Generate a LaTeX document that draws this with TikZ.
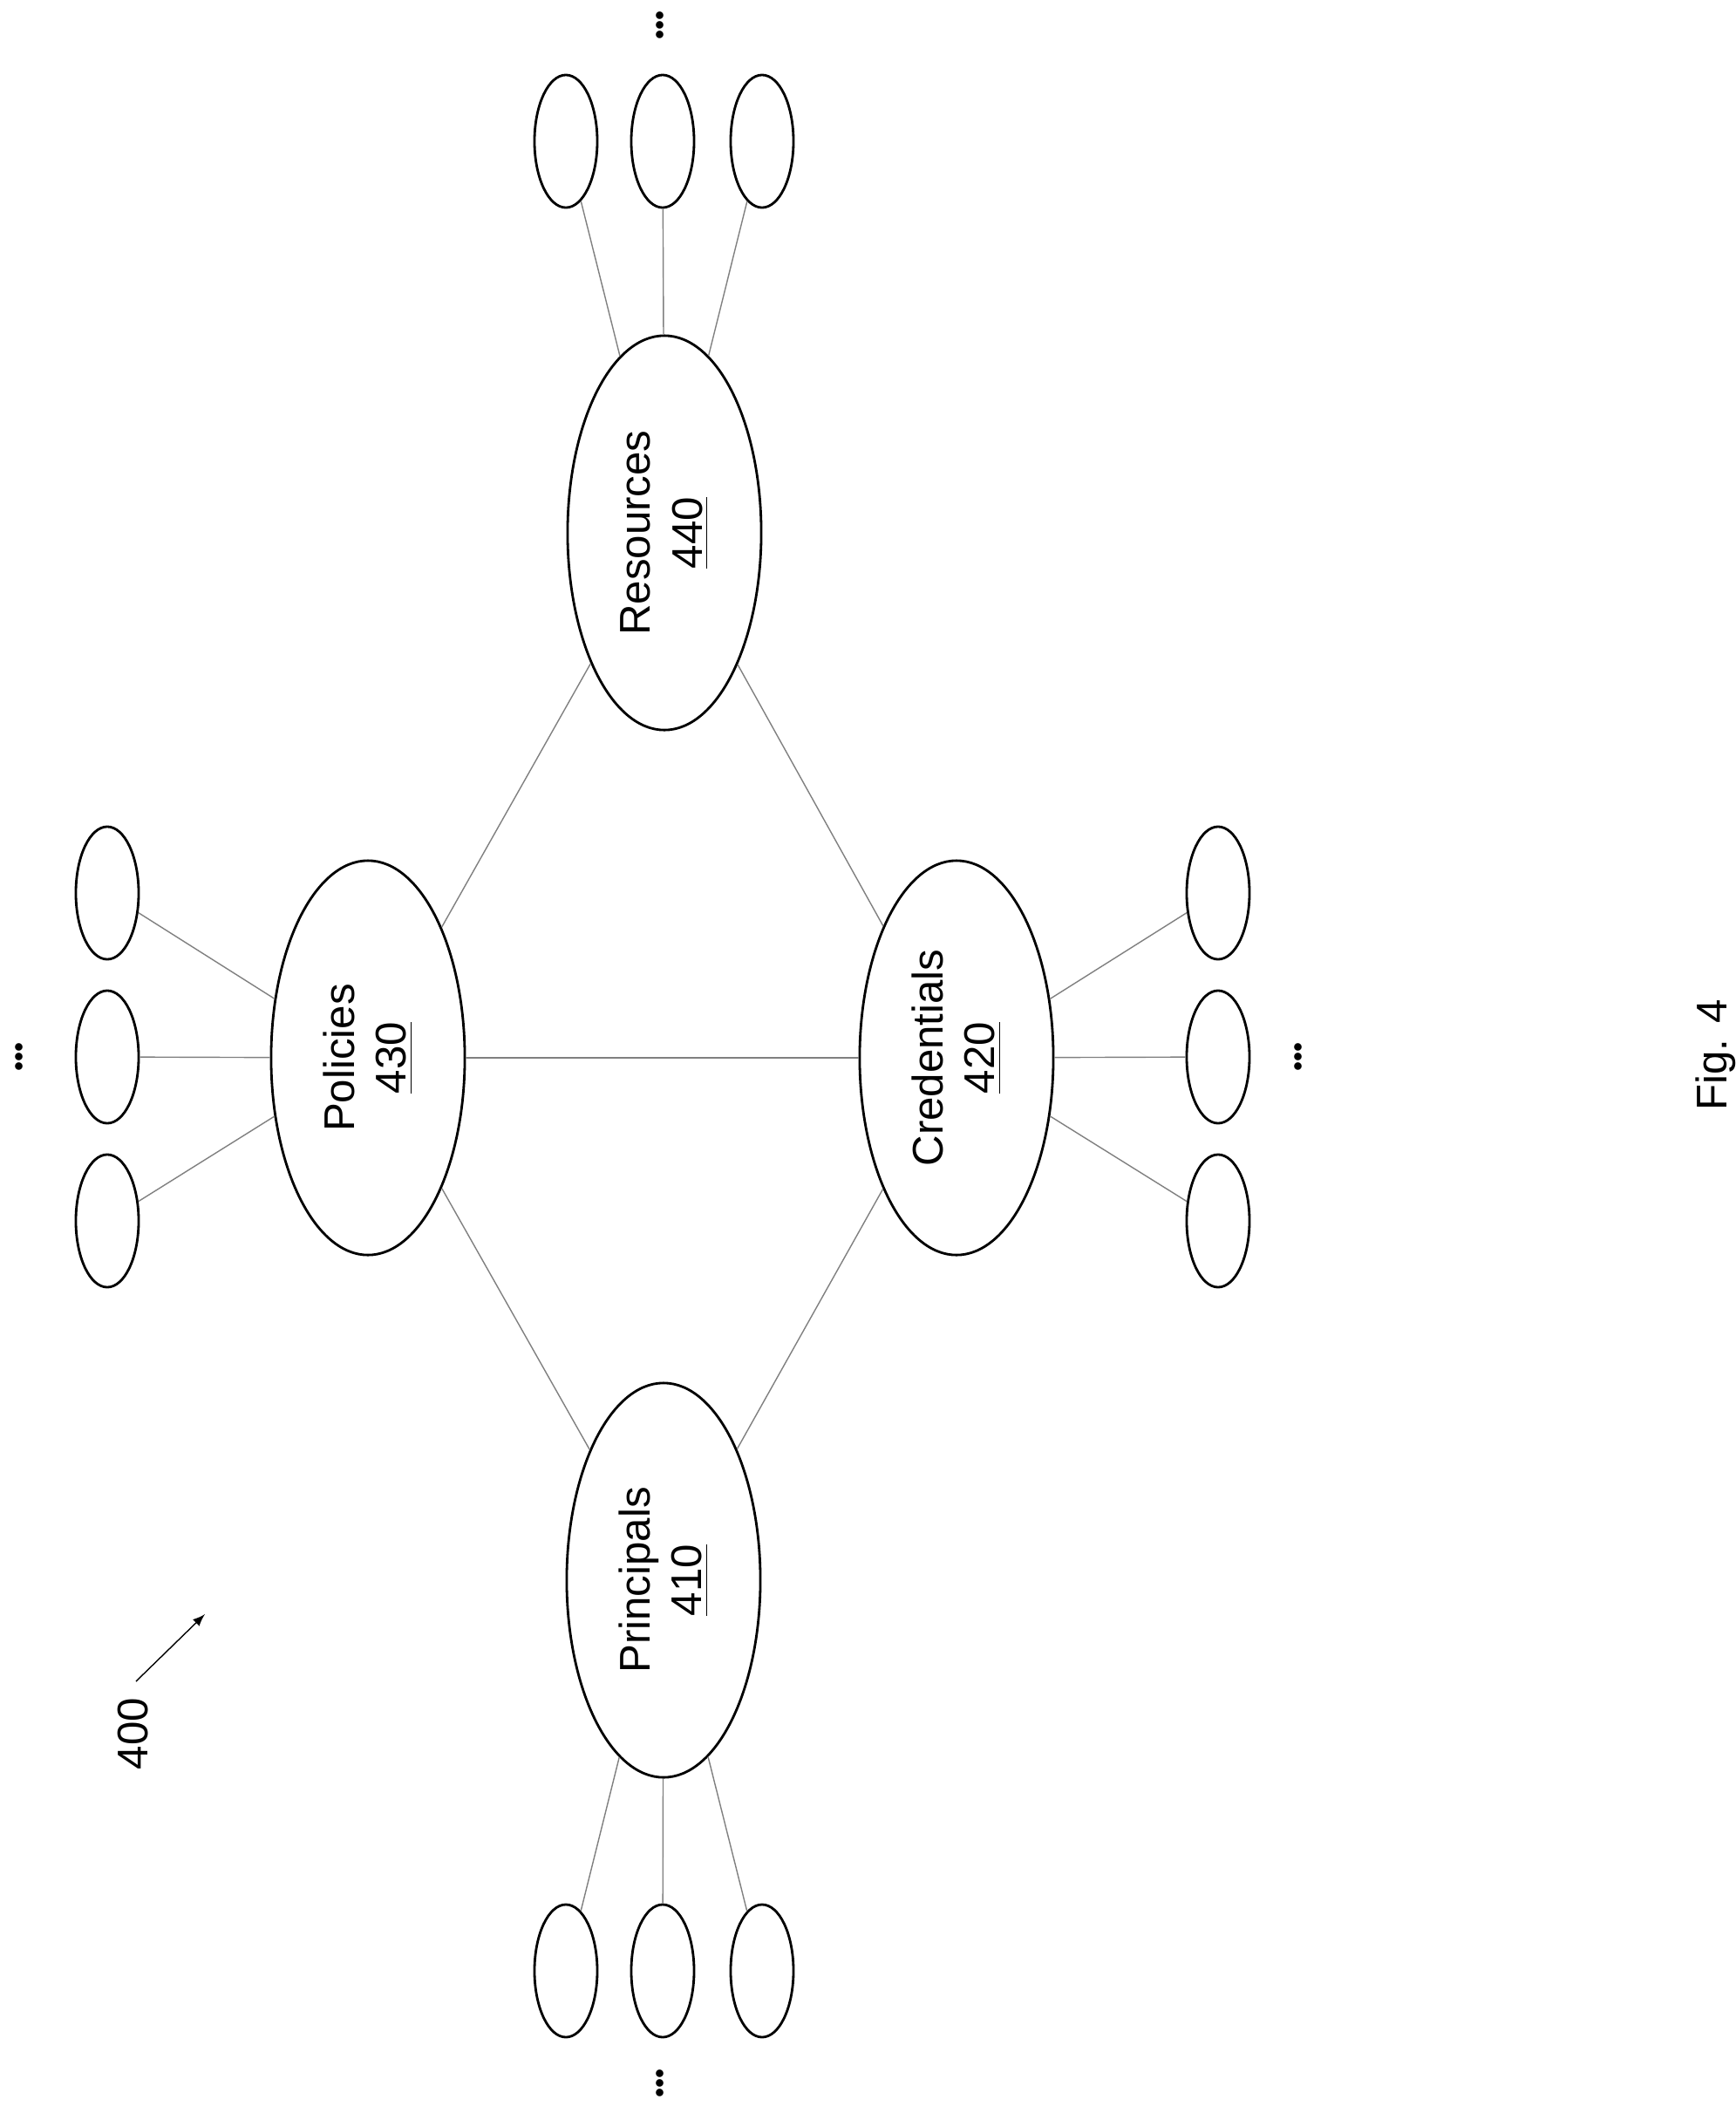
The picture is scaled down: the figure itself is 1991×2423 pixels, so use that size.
\documentclass[tikz,border=0pt]{standalone}
\usepackage{fontspec}
\setmainfont{Liberation Sans}
\usetikzlibrary{shapes.geometric}
\tikzset{
  big/.style={draw, ellipse, thick, minimum width=2.22cm, minimum height=4.52cm, inner sep=0pt},
  small/.style={draw, ellipse, thick, minimum width=0.72cm, minimum height=1.52cm, inner sep=0pt},
  link/.style={draw, gray, thin},
  dots/.style={font=\fontsize{9}{9}\selectfont, rotate=90, inner sep=0pt},
  lbl/.style={font=\fontsize{14}{17}\selectfont, rotate=90, align=center}
}
\begin{document}
\begin{tikzpicture}[x=0.01cm, y=-0.01cm]
        \useasboundingbox (0,0) rectangle (1991,2423);
        \node[big] (410) at (761,1812) {};
        \node[big] (430) at (422,1213) {};
        \node[big] (420) at (1097,1213) {};
        \node[big] (440) at (762,611) {};
        \node[lbl] at (410) {Principals\\\underline{410}};
        \node[lbl] at (430) {Policies\\\underline{430}};
        \node[lbl] at (420) {Credentials\\\underline{420}};
        \node[lbl] at (440) {Resources\\\underline{440}};
        \path[link] (410) -- (430);
        \path[link] (410) -- (420);
        \path[link] (430) -- (420);
        \path[link] (430) -- (440);
        \path[link] (420) -- (440);
        % leaves
        \foreach \i/\x in {1/649,2/760,3/874} {
            \node[small] (p\i) at (\x,2260) {};
            \path[link] (p\i) -- (410);
            \node[small] (r\i) at (\x,162) {};
            \path[link] (r\i) -- (440);
        }
        \foreach \i/\y in {1/1024,2/1212,3/1400} {
            \node[small] (o\i) at (123,\y) {};
            \path[link] (o\i) -- (430);
            \node[small] (c\i) at (1397,\y) {};
            \path[link] (c\i) -- (420);
        }
        \node[dots] (pdots) at (760,2389) {\textbullet\textbullet\textbullet};
        \node[dots] (rdots) at (760,29) {\textbullet\textbullet\textbullet};
        \node[dots] (odots) at (25,1212) {\textbullet\textbullet\textbullet};
        \node[dots] (cdots) at (1492,1212) {\textbullet\textbullet\textbullet};
        \node[lbl] (fig) at (1968,1210) {Fig. 4};
        \node[lbl] (num) at (153,1988) {400};
        \coordinate (tail) at (156,1928);
        \coordinate (tip) at (235,1851);
        \draw[-latex] (tail) -- (tip);
\end{tikzpicture}
\end{document}
